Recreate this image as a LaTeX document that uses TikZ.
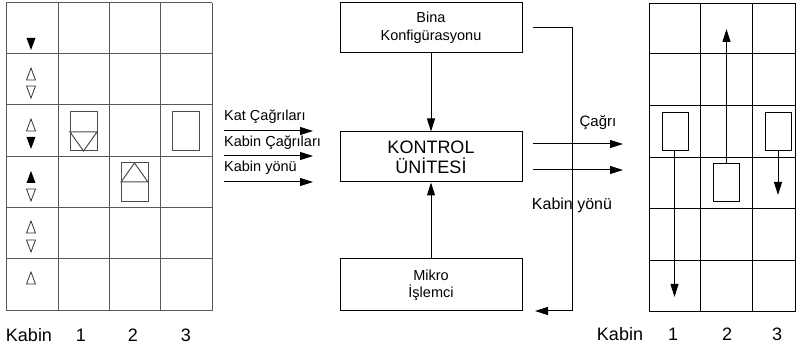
\documentclass[tikz,border=0pt]{standalone}
\usepackage{fontspec}
\setmainfont{Liberation Sans}
\usetikzlibrary{arrows.meta}
\tikzset{
  box/.style={draw,line width=1pt,minimum width=182pt,minimum height=50pt,inner sep=0pt,align=center},
  lbl/.style={inner sep=0pt,font=\fontsize{14.5}{16}\selectfont},
  biglbl/.style={inner sep=0pt,font=\fontsize{18}{20}\selectfont},
  grida/.style={draw=black!65,line width=1pt},
  gridb/.style={draw=black,line width=0.9pt},
  arr/.style={line width=1pt,-{Triangle[length=13pt,width=8pt]}},
  car/.style={draw,line width=1pt,minimum width=26pt,minimum height=38pt,inner sep=0pt},
  lcar/.style={draw=black!70,line width=1pt},
  ind/.style={draw=black!80,line width=0.8pt},
}
\newcommand{\upo}[1]{\draw[ind] (26.5,#1+6) -- (35.5,#1+6) -- (31,#1-6) -- cycle;}
\newcommand{\dno}[1]{\draw[ind] (26.5,#1-6) -- (35.5,#1-6) -- (31,#1+6) -- cycle;}
\newcommand{\upf}[1]{\fill (26.5,#1+6) -- (35.5,#1+6) -- (31,#1-6) -- cycle;}
\newcommand{\dnf}[1]{\fill (26.5,#1-6) -- (35.5,#1-6) -- (31,#1+6) -- cycle;}
\begin{document}
\begin{tikzpicture}[x=1pt,y=-1pt]
\useasboundingbox (0,0) rectangle (796,352);

% ---------- left grid ----------
\foreach \yy in {3,54,105,157,208,259,311} \draw[grida] (6,\yy) -- (212,\yy);
\foreach \xx in {6,58,109,160,212} \draw[grida] (\xx,3) -- (\xx,311);

% indicators
\dnf{44}
\upo{74}\dno{92}
\upo{125}\dnf{143}
\upf{177}\dno{195}
\upo{227}\dno{246}
\upo{278}

% left cars
\draw[lcar] (70,112) rectangle (97,151);
\draw[lcar] (70,132) -- (97,132) -- (83.5,151) -- cycle;
\draw[lcar] (121,163) rectangle (148,202);
\draw[lcar] (121,182) -- (148,182) -- (134.5,163) -- cycle;
\draw[lcar] (172,112) rectangle (199,151);

\node[biglbl] (lk) at (29,335) {Kabin};
\node[biglbl] (l1) at (81,335) {1};
\node[biglbl] (l2) at (133,335) {2};
\node[biglbl] (l3) at (186,335) {3};

% ---------- inputs ----------
\node[lbl,anchor=west] (in1) at (224,117) {Kat Çağrıları};
\node[lbl,anchor=west] (in2) at (224,143) {Kabin Çağrıları};
\node[lbl,anchor=west] (in3) at (224,168) {Kabin yönü};
\coordinate (a1s) at (224,131); \coordinate (a1e) at (313,131);
\coordinate (a2s) at (224,156); \coordinate (a2e) at (313,156);
\coordinate (a3s) at (224,182); \coordinate (a3e) at (313,182);
\draw[arr] (a1s) -- (a1e);
\draw[arr] (a2s) -- (a2e);
\draw[arr] (a3s) -- (a3e);

% ---------- central boxes ----------
\node[box,font=\fontsize{14.5}{18}\selectfont] (bina) at (431,28) {Bina\\Konfigürasyonu};
\node[box,font=\fontsize{18}{20}\selectfont] (kontrol) at (431,157) {KONTROL\\ÜNİTESİ};
\node[box,minimum height=52pt,font=\fontsize{14.5}{17}\selectfont] (mikro) at (431,285) {Mikro\\İşlemci};
\draw[arr] (bina) -- (kontrol);
\draw[arr] (mikro) -- (kontrol);

% ---------- feedback ----------
\coordinate (fbs) at (533,28);
\coordinate (fbc1) at (572,28);
\coordinate (fbc2) at (572,311);
\coordinate (fbe) at (535,311);
\draw[arr] (fbs) -- (fbc1) -- (fbc2) -- (fbe);

% ---------- outputs ----------
\coordinate (o1s) at (533,144); \coordinate (o1e) at (623,144);
\coordinate (o2s) at (533,170); \coordinate (o2e) at (623,170);
\draw[arr] (o1s) -- (o1e);
\draw[arr] (o2s) -- (o2e);
\node[lbl,font=\fontsize{15}{17}\selectfont] (cagri) at (598,123) {Çağrı};
\node[lbl,font=\fontsize{16}{18}\selectfont] (ky) at (572,205) {Kabin yönü};

% ---------- right grid ----------
\foreach \yy in {3,53,105,157,208,260,311} \draw[gridb] (649,\yy) -- (795.5,\yy);
\foreach \xx in {649,700,752,795.5} \draw[gridb] (\xx,3) -- (\xx,311);

\node[car] (c1) at (675,131.5) {};
\node[car] (c2) at (726.5,182.5) {};
\node[car] (c3) at (778.5,131.5) {};
\coordinate (c1e) at (674.5,297);
\coordinate (c2e) at (726.5,29);
\coordinate (c3e) at (778,195);
\draw[arr] (c1.south -| c1e) -- (c1e);
\draw[arr] (c2.north) -- (c2e);
\draw[arr] (c3.south -| c3e) -- (c3e);

\node[biglbl] (rk) at (620,334) {Kabin};
\node[biglbl] (r1) at (673,334) {1};
\node[biglbl] (r2) at (727,334) {2};
\node[biglbl] (r3) at (777,334) {3};
\end{tikzpicture}
\end{document}
